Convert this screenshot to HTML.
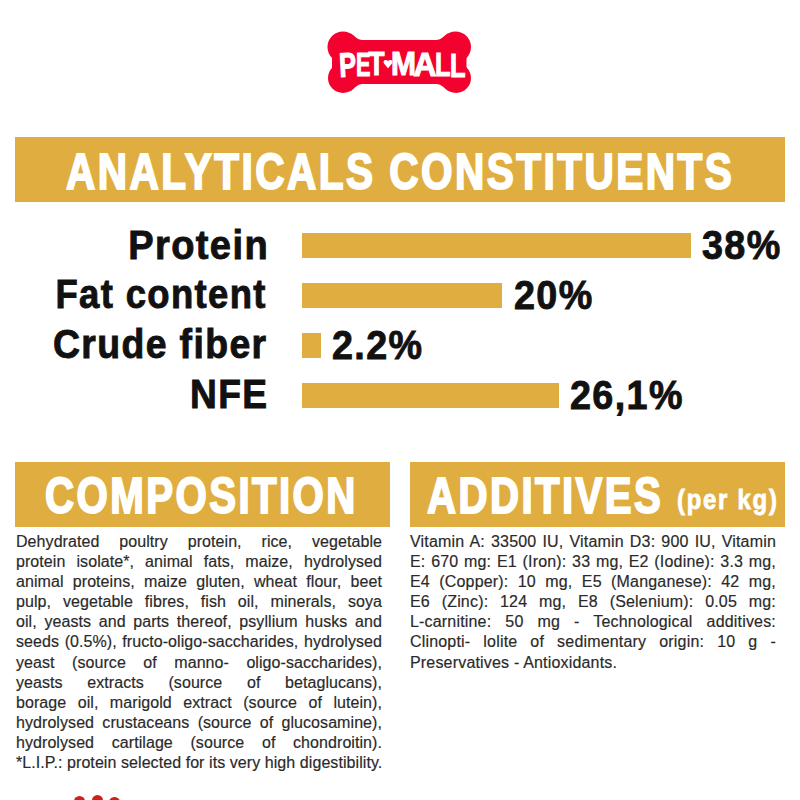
<!DOCTYPE html>
<html><head><meta charset="utf-8">
<style>
html,body{margin:0;padding:0;background:#fff;}
body{width:800px;height:800px;position:relative;overflow:hidden;font-family:"Liberation Sans",sans-serif;}
.a{position:absolute;white-space:pre;line-height:1;}
.gold{background:#E0AE40;position:absolute;}
.h{color:#fff;font-weight:bold;-webkit-text-stroke:1.9px #fff;}
.lab{color:#111;font-weight:bold;-webkit-text-stroke:0.9px #111;letter-spacing:1.5px;}
.bar{position:absolute;background:#E0AE40;height:25px;left:302px;}
.txt{position:absolute;color:#2a2a2a;font-size:16px;line-height:20.1px;letter-spacing:0.07px;-webkit-text-stroke:0.18px #2a2a2a;}
.txt div{text-align:justify;text-align-last:justify;white-space:nowrap;height:20.1px;}
.txt div.l{text-align-last:left;}
</style></head>
<body>
<!-- logo -->
<svg class="a" style="left:0;top:0" width="800" height="110" viewBox="0 0 800 110"><g fill="#F4022F">
<circle cx="343" cy="47" r="15.5"/><circle cx="343" cy="78" r="15"/>
<circle cx="455.5" cy="47" r="15.5"/><circle cx="456" cy="78" r="15"/>
<rect x="332" y="47" width="134.5" height="31"/>
<rect x="343" y="40" width="113" height="44"/>
<path d="M350.75 33.6 C354.5 35.8 357 40 362.5 40 L350 40 Z"/><path d="M350.5 91 C354.3 88.8 357 84 362.5 84 L350 84 Z"/>
<path d="M447.75 33.6 C444 35.8 441.5 40 436 40 L448.5 40 Z"/><path d="M448.5 91 C444.7 88.8 442 84 436 84 L449 84 Z"/>
</g></svg>
<svg class="a" style="left:0;top:0" width="800" height="110" viewBox="0 0 800 110" font-family="Liberation Sans" font-weight="bold" font-size="34" fill="#fff" stroke="#fff" stroke-width="1.1">
<text x="339" y="76.5" textLength="17" lengthAdjust="spacingAndGlyphs" transform="rotate(-3 347 64)">P</text>
<text x="356" y="75.5" textLength="14.5" lengthAdjust="spacingAndGlyphs">E</text>
<text x="368.5" y="75" textLength="16" lengthAdjust="spacingAndGlyphs">T</text>
<path d="M388 67.5 L384.6 63.5 C383.6 62.2 384.2 60.6 385.8 60.6 C386.9 60.6 387.6 61.3 388 62.2 C388.4 61.3 389.1 60.6 390.2 60.6 C391.8 60.6 392.4 62.2 391.4 63.5 Z"/>
<text x="391" y="74.5" textLength="25" lengthAdjust="spacingAndGlyphs">M</text>
<text x="413.5" y="75.5" textLength="23" lengthAdjust="spacingAndGlyphs">A</text>
<text x="435" y="76" textLength="15.5" lengthAdjust="spacingAndGlyphs">L</text>
<text x="450" y="76.8" textLength="15.5" lengthAdjust="spacingAndGlyphs">L</text>
</svg>

<!-- banner 1 -->
<div class="gold" style="left:15px;top:137px;width:770px;height:65px;"></div>
<div class="a h" id="t1" style="left:66px;top:147px;font-size:50px;letter-spacing:3px;transform-origin:0 0;transform:scaleX(0.812);">ANALYTICALS CONSTITUENTS</div>

<!-- labels -->
<div class="a lab" style="right:531px;top:224.5px;font-size:40.5px;transform-origin:100% 0;transform:scaleX(0.939);">Protein</div>
<div class="a lab" style="right:533px;top:274px;font-size:40.5px;transform-origin:100% 0;transform:scaleX(0.9);">Fat content</div>
<div class="a lab" style="right:532px;top:324px;font-size:40.5px;transform-origin:100% 0;transform:scaleX(0.923);">Crude fiber</div>
<div class="a lab" style="right:532px;top:374px;font-size:40.5px;transform-origin:100% 0;transform:scaleX(0.918);">NFE</div>

<div class="bar" style="top:233px;width:389px;"></div>
<div class="bar" style="top:283px;width:200px;"></div>
<div class="bar" style="top:333px;width:19px;"></div>
<div class="bar" style="top:383px;width:257px;"></div>

<div class="a lab" style="left:702px;top:225px;font-size:41px;transform-origin:0 0;transform:scaleX(0.92);">38%</div>
<div class="a lab" style="left:514px;top:275px;font-size:41px;transform-origin:0 0;transform:scaleX(0.92);">20%</div>
<div class="a lab" style="left:332px;top:325px;font-size:41px;transform-origin:0 0;transform:scaleX(0.92);">2.2%</div>
<div class="a lab" style="left:570px;top:375px;font-size:41px;transform-origin:0 0;transform:scaleX(0.92);">26,1%</div>

<!-- composition -->
<div class="gold" style="left:15px;top:462px;width:375px;height:65px;"></div>
<div class="a h" style="left:45px;top:471px;font-size:49.5px;letter-spacing:3px;transform-origin:0 0;transform:scaleX(0.8125);">COMPOSITION</div>
<div class="gold" style="left:410px;top:462px;width:375px;height:65px;"></div>
<div class="a h" style="left:427px;top:471px;font-size:49.5px;letter-spacing:3px;transform-origin:0 0;transform:scaleX(0.812);">ADDITIVES</div>
<div class="a h" style="left:677px;top:486px;font-size:27.5px;letter-spacing:2px;-webkit-text-stroke:0.8px #fff;transform-origin:0 0;transform:scaleX(0.87);">(per kg)</div>

<div class="txt" style="left:16px;top:532px;width:366px;">
<div>Dehydrated poultry protein, rice, vegetable</div>
<div>protein isolate*, animal fats, maize, hydrolysed</div>
<div>animal proteins, maize gluten, wheat flour, beet</div>
<div>pulp, vegetable fibres, fish oil, minerals, soya</div>
<div>oil, yeasts and parts thereof, psyllium husks and</div>
<div>seeds (0.5%), fructo-oligo-saccharides, hydrolysed</div>
<div>yeast (source of manno- oligo-saccharides),</div>
<div>yeasts extracts (source of betaglucans),</div>
<div>borage oil, marigold extract (source of lutein),</div>
<div>hydrolysed crustaceans (source of glucosamine),</div>
<div>hydrolysed cartilage (source of chondroitin).</div>
<div class="l">*L.I.P.: protein selected for its very high digestibility.</div>
</div>

<div class="txt" style="left:410px;top:532px;width:366px;letter-spacing:0.18px;">
<div>Vitamin A: 33500 IU, Vitamin D3: 900 IU, Vitamin</div>
<div>E: 670 mg: E1 (Iron): 33 mg, E2 (Iodine): 3.3 mg,</div>
<div>E4 (Copper): 10 mg, E5 (Manganese): 42 mg,</div>
<div>E6 (Zinc): 124 mg, E8 (Selenium): 0.05 mg:</div>
<div>L-carnitine: 50 mg - Technological additives:</div>
<div>Clinopti- lolite of sedimentary origin: 10 g -</div>
<div class="l">Preservatives - Antioxidants.</div>
</div>

<!-- paw dots -->
<div class="a" style="left:74px;top:796.3px;width:11px;height:11px;border-radius:50%;background:#CF2019;"></div>
<div class="a" style="left:91.5px;top:794.8px;width:11px;height:11px;border-radius:50%;background:#CF2019;"></div>
<div class="a" style="left:109px;top:797.2px;width:10.5px;height:10.5px;border-radius:50%;background:#CF2019;"></div>
</body></html>
